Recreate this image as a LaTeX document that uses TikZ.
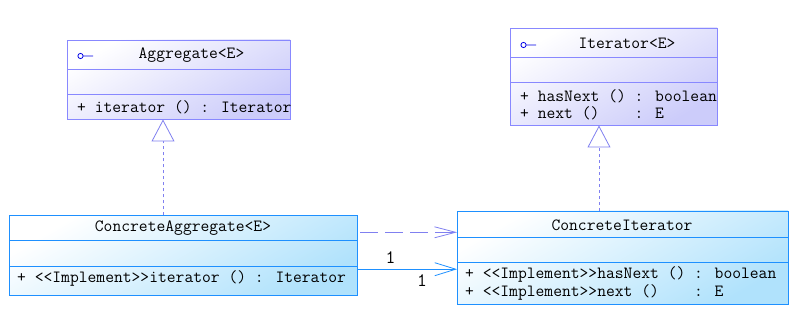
\documentclass[tikz,border=0pt]{standalone}
\usepackage{fontspec}
\usetikzlibrary{arrows.meta,calc}
\definecolor{ifaceline}{RGB}{136,136,255}
\definecolor{ifacefill}{RGB}{204,204,250}
\definecolor{implline}{RGB}{30,144,255}
\definecolor{implfill}{RGB}{176,226,252}
\definecolor{linkline}{RGB}{128,128,240}
\definecolor{iconblue}{RGB}{0,0,230}
\tikzset{
  x=1pt, y=-1pt,
  every node/.style={font=\ttfamily\fontsize{17.1}{19}\selectfont, inner sep=0pt},
  % class boxes: white at the upper left, tinted at the lower right
  ifacebox/.style={draw=ifaceline, line width=0.9pt, shading=axis,
    top color=white, bottom color=ifacefill, shading angle=30},
  implbox/.style={draw=implline, line width=0.9pt, shading=axis,
    top color=white, bottom color=implfill, shading angle=30},
  member/.style={anchor=west},
  title/.style={anchor=center},
  mult/.style={font=\ttfamily\fontsize{19}{21}\selectfont},
  realize/.style={draw=linkline, line width=0.8pt, dash pattern=on 3pt off 3pt,
    -{Triangle[open, length=22pt, width=23pt, fill=white]}},
  depend/.style={draw=linkline, line width=0.8pt, dash pattern=on 18pt off 7pt,
    -{Straight Barb[length=21pt, width=11pt, line width=0.8pt]}},
  assoc/.style={draw=implline, line width=0.9pt,
    -{Straight Barb[length=21pt, width=13pt, line width=0.8pt]}},
  icon/.style={draw=iconblue, line width=0.8pt}
}
\begin{document}
\begin{tikzpicture}
\useasboundingbox (0,0) rectangle (800,320);

% Aggregate<E>
\path[ifacebox] (67,40) rectangle (290,119);
\node[draw=none, minimum width=223pt, minimum height=79pt] (agg) at (178.5,79.5) {};
\draw[ifaceline, line width=0.9pt] (67,69) -- (290,69) (67,94) -- (290,94);
\draw[icon] (80.5,56) circle (2.6pt) (83.1,56) -- (93,56);
\node[title] (aggT) at (191.5,55) {Aggregate<E>};
\node[member] (aggM) at (77,107) {+ iterator () : Iterator};

% Iterator<E>
\path[ifacebox] (510,28) rectangle (717,125);
\node[draw=none, minimum width=207pt, minimum height=97pt] (itr) at (613.5,76.5) {};
\draw[ifaceline, line width=0.9pt] (510,57) -- (717,57) (510,82) -- (717,82);
\draw[icon] (523.5,45) circle (2.6pt) (526.1,45) -- (536,45);
\node[title] (itrT) at (627,43) {Iterator<E>};
\node[member] (itrM1) at (520,96) {+ hasNext () : boolean};
\node[member] (itrM2) at (520,113.5) {+ next ()\ \ \ \ : E};

% ConcreteAggregate<E>
\path[implbox] (9,215.5) rectangle (357,295);
\node[draw=none, minimum width=348pt, minimum height=79.5pt] (cagg) at (183,255.25) {};
\draw[implline, line width=0.9pt] (9,240) -- (357,240) (9,266) -- (357,266);
\node[title] (caggT) at (183,228) {ConcreteAggregate<E>};
\node[member] (caggM) at (17,278) {+ <<Implement>>iterator () : Iterator};

% ConcreteIterator
\path[implbox] (457.3,211) rectangle (788,304);
\node[draw=none, minimum width=330.7pt, minimum height=93pt] (citr) at (622.65,257.5) {};
\draw[implline, line width=0.9pt] (457.3,237) -- (788,237) (457.3,262) -- (788,262);
\node[title] (citrT) at (622,225) {ConcreteIterator};
\node[member] (citrM1) at (465,274) {+ <<Implement>>hasNext () : boolean};
\node[member] (citrM2) at (465,292) {+ <<Implement>>next ()\ \ \ \ : E};

% realizations
\draw[realize] (cagg.north -| 163,0) -- (163,119.5);
\draw[realize] (citr.north -| 599,0) -- (599,125.5);

% dependency and association
\coordinate (depS) at ($(cagg.north east)+(3,17)$);
\draw[depend] (depS) -- (depS -| citr.west);
\coordinate (asoS) at ($(cagg.south east)+(0,-26)$);
\draw[assoc] (asoS) -- (asoS -| citr.west);
\node[mult] (m1) at (390.5,258) {1};
\node[mult] (m2) at (422,281) {1};
\end{tikzpicture}
\end{document}
